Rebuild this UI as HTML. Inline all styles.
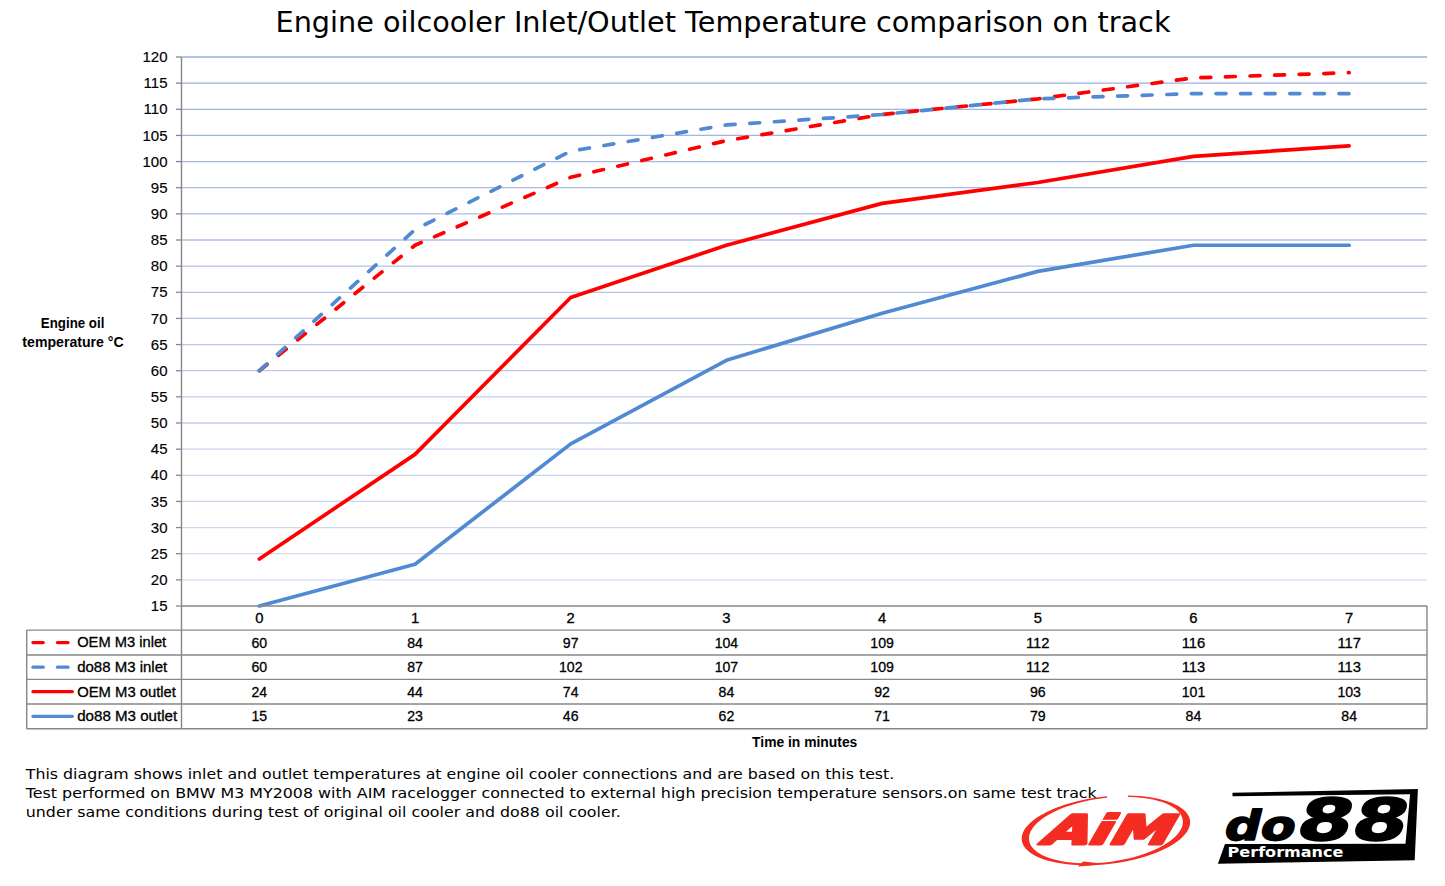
<!DOCTYPE html><html><head><meta charset="utf-8"><title>Engine oilcooler Inlet/Outlet Temperature comparison on track</title>
<style>html,body{margin:0;padding:0;background:#fff;width:1445px;height:886px;overflow:hidden}svg{display:block}.lab{font-family:'Liberation Sans',sans-serif;font-size:15px;fill:#000;stroke:#000;stroke-width:0.15px}.tv{font-family:'Liberation Sans',sans-serif;font-size:14.8px;fill:#000;stroke:#000;stroke-width:0.3px}.b{font-family:'Liberation Sans',sans-serif;font-weight:bold;font-size:13.9px;fill:#000}.ver{font-family:'DejaVu Sans',sans-serif;fill:#000}</style></head><body>
<svg width="1445" height="886" viewBox="0 0 1445 886">
<text class="ver" x="275.5" y="31.6" font-size="28" textLength="895" lengthAdjust="spacingAndGlyphs">Engine oilcooler Inlet/Outlet Temperature comparison on track</text>
<line x1="181.5" y1="579.86" x2="1427.0" y2="579.86" stroke="#d6dbf0" stroke-width="1.3"/>
<line x1="181.5" y1="553.71" x2="1427.0" y2="553.71" stroke="#d3d9ef" stroke-width="1.3"/>
<line x1="181.5" y1="527.57" x2="1427.0" y2="527.57" stroke="#d0d7ee" stroke-width="1.3"/>
<line x1="181.5" y1="501.43" x2="1427.0" y2="501.43" stroke="#cdd4ee" stroke-width="1.3"/>
<line x1="181.5" y1="475.29" x2="1427.0" y2="475.29" stroke="#cad2ed" stroke-width="1.3"/>
<line x1="181.5" y1="449.14" x2="1427.0" y2="449.14" stroke="#c6d0ec" stroke-width="1.3"/>
<line x1="181.5" y1="423.00" x2="1427.0" y2="423.00" stroke="#c3ceeb" stroke-width="1.3"/>
<line x1="181.5" y1="396.86" x2="1427.0" y2="396.86" stroke="#c0ccea" stroke-width="1.3"/>
<line x1="181.5" y1="370.71" x2="1427.0" y2="370.71" stroke="#bdc9ea" stroke-width="1.3"/>
<line x1="181.5" y1="344.57" x2="1427.0" y2="344.57" stroke="#bac7e9" stroke-width="1.3"/>
<line x1="181.5" y1="318.43" x2="1427.0" y2="318.43" stroke="#b7c5e8" stroke-width="1.3"/>
<line x1="181.5" y1="292.29" x2="1427.0" y2="292.29" stroke="#b4c3e7" stroke-width="1.3"/>
<line x1="181.5" y1="266.14" x2="1427.0" y2="266.14" stroke="#b1c1e6" stroke-width="1.3"/>
<line x1="181.5" y1="240.00" x2="1427.0" y2="240.00" stroke="#aebee6" stroke-width="1.3"/>
<line x1="181.5" y1="213.86" x2="1427.0" y2="213.86" stroke="#abbce5" stroke-width="1.3"/>
<line x1="181.5" y1="187.71" x2="1427.0" y2="187.71" stroke="#a7bae4" stroke-width="1.3"/>
<line x1="181.5" y1="161.57" x2="1427.0" y2="161.57" stroke="#a4b8e3" stroke-width="1.3"/>
<line x1="181.5" y1="135.43" x2="1427.0" y2="135.43" stroke="#a1b6e2" stroke-width="1.3"/>
<line x1="181.5" y1="109.29" x2="1427.0" y2="109.29" stroke="#9eb3e2" stroke-width="1.3"/>
<line x1="181.5" y1="83.14" x2="1427.0" y2="83.14" stroke="#9bb1e1" stroke-width="1.3"/>
<line x1="181.5" y1="57.00" x2="1427.0" y2="57.00" stroke="#98afe0" stroke-width="1.3"/>
<line x1="176" y1="606.00" x2="181.5" y2="606.00" stroke="#878787" stroke-width="1.3"/>
<text class="lab" x="167.5" y="611.20" text-anchor="end">15</text>
<line x1="176" y1="579.86" x2="181.5" y2="579.86" stroke="#878787" stroke-width="1.3"/>
<text class="lab" x="167.5" y="585.06" text-anchor="end">20</text>
<line x1="176" y1="553.71" x2="181.5" y2="553.71" stroke="#878787" stroke-width="1.3"/>
<text class="lab" x="167.5" y="558.91" text-anchor="end">25</text>
<line x1="176" y1="527.57" x2="181.5" y2="527.57" stroke="#878787" stroke-width="1.3"/>
<text class="lab" x="167.5" y="532.77" text-anchor="end">30</text>
<line x1="176" y1="501.43" x2="181.5" y2="501.43" stroke="#878787" stroke-width="1.3"/>
<text class="lab" x="167.5" y="506.63" text-anchor="end">35</text>
<line x1="176" y1="475.29" x2="181.5" y2="475.29" stroke="#878787" stroke-width="1.3"/>
<text class="lab" x="167.5" y="480.49" text-anchor="end">40</text>
<line x1="176" y1="449.14" x2="181.5" y2="449.14" stroke="#878787" stroke-width="1.3"/>
<text class="lab" x="167.5" y="454.34" text-anchor="end">45</text>
<line x1="176" y1="423.00" x2="181.5" y2="423.00" stroke="#878787" stroke-width="1.3"/>
<text class="lab" x="167.5" y="428.20" text-anchor="end">50</text>
<line x1="176" y1="396.86" x2="181.5" y2="396.86" stroke="#878787" stroke-width="1.3"/>
<text class="lab" x="167.5" y="402.06" text-anchor="end">55</text>
<line x1="176" y1="370.71" x2="181.5" y2="370.71" stroke="#878787" stroke-width="1.3"/>
<text class="lab" x="167.5" y="375.91" text-anchor="end">60</text>
<line x1="176" y1="344.57" x2="181.5" y2="344.57" stroke="#878787" stroke-width="1.3"/>
<text class="lab" x="167.5" y="349.77" text-anchor="end">65</text>
<line x1="176" y1="318.43" x2="181.5" y2="318.43" stroke="#878787" stroke-width="1.3"/>
<text class="lab" x="167.5" y="323.63" text-anchor="end">70</text>
<line x1="176" y1="292.29" x2="181.5" y2="292.29" stroke="#878787" stroke-width="1.3"/>
<text class="lab" x="167.5" y="297.49" text-anchor="end">75</text>
<line x1="176" y1="266.14" x2="181.5" y2="266.14" stroke="#878787" stroke-width="1.3"/>
<text class="lab" x="167.5" y="271.34" text-anchor="end">80</text>
<line x1="176" y1="240.00" x2="181.5" y2="240.00" stroke="#878787" stroke-width="1.3"/>
<text class="lab" x="167.5" y="245.20" text-anchor="end">85</text>
<line x1="176" y1="213.86" x2="181.5" y2="213.86" stroke="#878787" stroke-width="1.3"/>
<text class="lab" x="167.5" y="219.06" text-anchor="end">90</text>
<line x1="176" y1="187.71" x2="181.5" y2="187.71" stroke="#878787" stroke-width="1.3"/>
<text class="lab" x="167.5" y="192.91" text-anchor="end">95</text>
<line x1="176" y1="161.57" x2="181.5" y2="161.57" stroke="#878787" stroke-width="1.3"/>
<text class="lab" x="167.5" y="166.77" text-anchor="end">100</text>
<line x1="176" y1="135.43" x2="181.5" y2="135.43" stroke="#878787" stroke-width="1.3"/>
<text class="lab" x="167.5" y="140.63" text-anchor="end">105</text>
<line x1="176" y1="109.29" x2="181.5" y2="109.29" stroke="#878787" stroke-width="1.3"/>
<text class="lab" x="167.5" y="114.49" text-anchor="end">110</text>
<line x1="176" y1="83.14" x2="181.5" y2="83.14" stroke="#878787" stroke-width="1.3"/>
<text class="lab" x="167.5" y="88.34" text-anchor="end">115</text>
<line x1="176" y1="57.00" x2="181.5" y2="57.00" stroke="#878787" stroke-width="1.3"/>
<text class="lab" x="167.5" y="62.20" text-anchor="end">120</text>
<text class="b" x="72.6" y="327.6" text-anchor="middle" textLength="63.5" lengthAdjust="spacingAndGlyphs">Engine oil</text>
<text class="b" x="73" y="346.8" text-anchor="middle" textLength="101.3" lengthAdjust="spacingAndGlyphs">temperature °C</text>
<polyline points="259.34,370.71 415.03,245.23 570.72,177.26 726.41,140.66 882.09,114.51 1037.78,98.83 1193.47,77.91 1349.16,72.69" fill="none" stroke="#ff0000" stroke-width="3.7" stroke-linecap="round" stroke-linejoin="round" stroke-dasharray="9.9 14.7"/>
<polyline points="259.34,370.71 415.03,229.54 570.72,151.11 726.41,124.97 882.09,114.51 1037.78,98.83 1193.47,93.60 1349.16,93.60" fill="none" stroke="#518ad3" stroke-width="3.7" stroke-linecap="round" stroke-linejoin="round" stroke-dasharray="9.9 14.7"/>
<polyline points="259.34,558.94 415.03,454.37 570.72,297.51 726.41,245.23 882.09,203.40 1037.78,182.49 1193.47,156.34 1349.16,145.89" fill="none" stroke="#ff0000" stroke-width="3.7" stroke-linecap="round" stroke-linejoin="round"/>
<polyline points="259.34,606.00 415.03,564.17 570.72,443.91 726.41,360.26 882.09,313.20 1037.78,271.37 1193.47,245.23 1349.16,245.23" fill="none" stroke="#518ad3" stroke-width="3.7" stroke-linecap="round" stroke-linejoin="round"/>
<g stroke="#878787" stroke-width="1.4" fill="none">
<line x1="181.5" y1="57" x2="181.5" y2="728.7"/>
<line x1="181.5" y1="606" x2="1427.0" y2="606"/>
<line x1="1427.0" y1="606" x2="1427.0" y2="728.7"/>
<line x1="26.7" y1="630.1" x2="26.7" y2="728.7"/>
<line x1="26.7" y1="630.1" x2="1427.0" y2="630.1"/>
<line x1="26.7" y1="655.0" x2="1427.0" y2="655.0"/>
<line x1="26.7" y1="679.4" x2="1427.0" y2="679.4"/>
<line x1="26.7" y1="704.0" x2="1427.0" y2="704.0"/>
<line x1="26.7" y1="728.7" x2="1427.0" y2="728.7"/>
</g>
<text class="tv" x="259.34" y="623.4" text-anchor="middle">0</text>
<text class="tv" x="415.03" y="623.4" text-anchor="middle">1</text>
<text class="tv" x="570.72" y="623.4" text-anchor="middle">2</text>
<text class="tv" x="726.41" y="623.4" text-anchor="middle">3</text>
<text class="tv" x="882.09" y="623.4" text-anchor="middle">4</text>
<text class="tv" x="1037.78" y="623.4" text-anchor="middle">5</text>
<text class="tv" x="1193.47" y="623.4" text-anchor="middle">6</text>
<text class="tv" x="1349.16" y="623.4" text-anchor="middle">7</text>
<text class="tv" x="259.34" y="647.60" text-anchor="middle" textLength="15.70" lengthAdjust="spacingAndGlyphs">60</text>
<text class="tv" x="415.03" y="647.60" text-anchor="middle" textLength="15.70" lengthAdjust="spacingAndGlyphs">84</text>
<text class="tv" x="570.72" y="647.60" text-anchor="middle" textLength="15.70" lengthAdjust="spacingAndGlyphs">97</text>
<text class="tv" x="726.41" y="647.60" text-anchor="middle" textLength="23.55" lengthAdjust="spacingAndGlyphs">104</text>
<text class="tv" x="882.09" y="647.60" text-anchor="middle" textLength="23.55" lengthAdjust="spacingAndGlyphs">109</text>
<text class="tv" x="1037.78" y="647.60" text-anchor="middle" textLength="23.55" lengthAdjust="spacingAndGlyphs">112</text>
<text class="tv" x="1193.47" y="647.60" text-anchor="middle" textLength="23.55" lengthAdjust="spacingAndGlyphs">116</text>
<text class="tv" x="1349.16" y="647.60" text-anchor="middle" textLength="23.55" lengthAdjust="spacingAndGlyphs">117</text>
<line x1="33.0" y1="642.6" x2="43.2" y2="642.6" stroke="#ff0000" stroke-width="3.3" stroke-linecap="round"/>
<line x1="57.5" y1="642.6" x2="68.0" y2="642.6" stroke="#ff0000" stroke-width="3.3" stroke-linecap="round"/>
<text class="tv" style="font-size:14px" x="77.2" y="647.40" textLength="89.0" lengthAdjust="spacingAndGlyphs">OEM M3 inlet</text>
<text class="tv" x="259.34" y="672.20" text-anchor="middle" textLength="15.70" lengthAdjust="spacingAndGlyphs">60</text>
<text class="tv" x="415.03" y="672.20" text-anchor="middle" textLength="15.70" lengthAdjust="spacingAndGlyphs">87</text>
<text class="tv" x="570.72" y="672.20" text-anchor="middle" textLength="23.55" lengthAdjust="spacingAndGlyphs">102</text>
<text class="tv" x="726.41" y="672.20" text-anchor="middle" textLength="23.55" lengthAdjust="spacingAndGlyphs">107</text>
<text class="tv" x="882.09" y="672.20" text-anchor="middle" textLength="23.55" lengthAdjust="spacingAndGlyphs">109</text>
<text class="tv" x="1037.78" y="672.20" text-anchor="middle" textLength="23.55" lengthAdjust="spacingAndGlyphs">112</text>
<text class="tv" x="1193.47" y="672.20" text-anchor="middle" textLength="23.55" lengthAdjust="spacingAndGlyphs">113</text>
<text class="tv" x="1349.16" y="672.20" text-anchor="middle" textLength="23.55" lengthAdjust="spacingAndGlyphs">113</text>
<line x1="33.0" y1="667.2" x2="43.2" y2="667.2" stroke="#518ad3" stroke-width="3.3" stroke-linecap="round"/>
<line x1="57.5" y1="667.2" x2="68.0" y2="667.2" stroke="#518ad3" stroke-width="3.3" stroke-linecap="round"/>
<text class="tv" style="font-size:14px" x="77.2" y="672.00" textLength="90.0" lengthAdjust="spacingAndGlyphs">do88 M3 inlet</text>
<text class="tv" x="259.34" y="696.70" text-anchor="middle" textLength="15.70" lengthAdjust="spacingAndGlyphs">24</text>
<text class="tv" x="415.03" y="696.70" text-anchor="middle" textLength="15.70" lengthAdjust="spacingAndGlyphs">44</text>
<text class="tv" x="570.72" y="696.70" text-anchor="middle" textLength="15.70" lengthAdjust="spacingAndGlyphs">74</text>
<text class="tv" x="726.41" y="696.70" text-anchor="middle" textLength="15.70" lengthAdjust="spacingAndGlyphs">84</text>
<text class="tv" x="882.09" y="696.70" text-anchor="middle" textLength="15.70" lengthAdjust="spacingAndGlyphs">92</text>
<text class="tv" x="1037.78" y="696.70" text-anchor="middle" textLength="15.70" lengthAdjust="spacingAndGlyphs">96</text>
<text class="tv" x="1193.47" y="696.70" text-anchor="middle" textLength="23.55" lengthAdjust="spacingAndGlyphs">101</text>
<text class="tv" x="1349.16" y="696.70" text-anchor="middle" textLength="23.55" lengthAdjust="spacingAndGlyphs">103</text>
<line x1="33.0" y1="691.7" x2="72.3" y2="691.7" stroke="#ff0000" stroke-width="3.3" stroke-linecap="round"/>
<text class="tv" style="font-size:14px" x="77.2" y="696.50" textLength="98.8" lengthAdjust="spacingAndGlyphs">OEM M3 outlet</text>
<text class="tv" x="259.34" y="721.30" text-anchor="middle" textLength="15.70" lengthAdjust="spacingAndGlyphs">15</text>
<text class="tv" x="415.03" y="721.30" text-anchor="middle" textLength="15.70" lengthAdjust="spacingAndGlyphs">23</text>
<text class="tv" x="570.72" y="721.30" text-anchor="middle" textLength="15.70" lengthAdjust="spacingAndGlyphs">46</text>
<text class="tv" x="726.41" y="721.30" text-anchor="middle" textLength="15.70" lengthAdjust="spacingAndGlyphs">62</text>
<text class="tv" x="882.09" y="721.30" text-anchor="middle" textLength="15.70" lengthAdjust="spacingAndGlyphs">71</text>
<text class="tv" x="1037.78" y="721.30" text-anchor="middle" textLength="15.70" lengthAdjust="spacingAndGlyphs">79</text>
<text class="tv" x="1193.47" y="721.30" text-anchor="middle" textLength="15.70" lengthAdjust="spacingAndGlyphs">84</text>
<text class="tv" x="1349.16" y="721.30" text-anchor="middle" textLength="15.70" lengthAdjust="spacingAndGlyphs">84</text>
<line x1="33.0" y1="716.3" x2="72.3" y2="716.3" stroke="#518ad3" stroke-width="3.3" stroke-linecap="round"/>
<text class="tv" style="font-size:14px" x="77.2" y="721.10" textLength="100.0" lengthAdjust="spacingAndGlyphs">do88 M3 outlet</text>
<text class="b" x="804.7" y="746.9" text-anchor="middle" textLength="105.2" lengthAdjust="spacingAndGlyphs">Time in minutes</text>
<text class="ver" x="25.8" y="779.4" font-size="14.3" textLength="868.5" lengthAdjust="spacingAndGlyphs">This diagram shows inlet and outlet temperatures at engine oil cooler connections and are based on this test.</text>
<text class="ver" x="25.8" y="798.4" font-size="14.3" textLength="1071.0" lengthAdjust="spacingAndGlyphs">Test performed on BMW M3 MY2008 with AIM racelogger connected to external high precision temperature sensors.on same test track</text>
<text class="ver" x="25.8" y="817.4" font-size="14.3" textLength="595.0" lengthAdjust="spacingAndGlyphs">under same conditions during test of original oil cooler and do88 oil cooler.</text>
<g id="aim">
<path fill="#f42c22" fill-rule="evenodd" d="M1190.04,820.66 L1190.10,823.02 L1189.76,825.42 L1189.01,827.84 L1187.85,830.27 L1186.29,832.70 L1184.34,835.12 L1182.01,837.52 L1179.31,839.88 L1176.25,842.20 L1172.84,844.46 L1169.11,846.65 L1165.08,848.76 L1160.75,850.79 L1156.16,852.71 L1151.32,854.52 L1146.27,856.22 L1141.01,857.79 L1135.58,859.23 L1130.01,860.53 L1124.33,861.68 L1118.55,862.68 L1112.71,863.52 L1106.83,864.20 L1100.96,864.71 L1095.10,865.06 L1089.30,865.24 L1083.58,865.25 L1077.97,865.09 L1072.50,864.76 L1067.19,864.26 L1062.06,863.60 L1057.15,862.77 L1052.48,861.79 L1048.07,860.66 L1043.94,859.38 L1040.11,857.95 L1036.60,856.40 L1033.43,854.71 L1030.61,852.91 L1028.16,851.00 L1026.09,848.99 L1024.41,846.88 L1023.12,844.70 L1022.24,842.45 L1021.76,840.14 L1021.70,837.78 L1022.04,835.38 L1022.79,832.96 L1023.95,830.53 L1025.51,828.10 L1027.46,825.68 L1029.79,823.28 L1032.49,820.92 L1035.55,818.60 L1038.96,816.34 L1042.69,814.15 L1046.72,812.04 L1051.05,810.01 L1055.64,808.09 L1060.48,806.28 L1065.53,804.58 L1070.79,803.01 L1076.22,801.57 L1081.79,800.27 L1087.47,799.12 L1093.25,798.12 L1099.09,797.28 L1104.97,796.60 L1110.84,796.09 L1116.70,795.74 L1122.50,795.56 L1128.22,795.55 L1133.83,795.71 L1139.30,796.04 L1144.61,796.54 L1149.74,797.20 L1154.65,798.03 L1159.32,799.01 L1163.73,800.14 L1167.86,801.42 L1171.69,802.85 L1175.20,804.40 L1178.37,806.09 L1181.19,807.89 L1183.64,809.80 L1185.71,811.81 L1187.39,813.92 L1188.68,816.10 L1189.56,818.35 Z M1182.75,820.12 L1182.85,822.36 L1182.58,824.63 L1181.93,826.93 L1180.91,829.25 L1179.53,831.57 L1177.79,833.89 L1175.69,836.18 L1173.26,838.45 L1170.50,840.68 L1167.42,842.85 L1164.05,844.96 L1160.39,847.00 L1156.46,848.96 L1152.29,850.83 L1147.90,852.59 L1143.30,854.25 L1138.51,855.78 L1133.57,857.20 L1128.49,858.48 L1123.30,859.62 L1118.03,860.62 L1112.70,861.47 L1107.34,862.16 L1101.97,862.70 L1096.61,863.08 L1091.31,863.31 L1086.07,863.36 L1080.93,863.26 L1075.91,863.00 L1071.04,862.57 L1066.34,861.99 L1061.83,861.25 L1057.54,860.36 L1053.48,859.32 L1049.68,858.14 L1046.15,856.83 L1042.91,855.38 L1039.98,853.81 L1037.37,852.13 L1035.09,850.33 L1033.16,848.44 L1031.58,846.46 L1030.37,844.40 L1029.52,842.27 L1029.05,840.08 L1028.95,837.84 L1029.22,835.57 L1029.87,833.27 L1030.89,830.95 L1032.27,828.63 L1034.01,826.31 L1036.11,824.02 L1038.54,821.75 L1041.30,819.52 L1044.38,817.35 L1047.75,815.24 L1051.41,813.20 L1055.34,811.24 L1059.51,809.37 L1063.90,807.61 L1068.50,805.95 L1073.29,804.42 L1078.23,803.00 L1083.31,801.72 L1088.50,800.58 L1093.77,799.58 L1099.10,798.73 L1104.46,798.04 L1109.83,797.50 L1115.19,797.12 L1120.49,796.89 L1125.73,796.84 L1130.87,796.94 L1135.89,797.20 L1140.76,797.63 L1145.46,798.21 L1149.97,798.95 L1154.26,799.84 L1158.32,800.88 L1162.12,802.06 L1165.65,803.37 L1168.89,804.82 L1171.82,806.39 L1174.43,808.07 L1176.71,809.87 L1178.64,811.76 L1180.22,813.74 L1181.43,815.80 L1182.28,817.93 Z"/>
<polygon fill="#fff" points="1107,790 1128,790 1128,800 1107,801"/>
<polygon fill="#f42c22" points="1077.6,866.4 1083.3,861.4 1097,863.0 1097,865.0"/>
<text transform="translate(1038.5,843.5) skewX(-30)" x="0" y="0" font-family="DejaVu Sans, sans-serif" font-weight="bold" font-size="40.2" fill="#f42c22" stroke="#f42c22" stroke-width="2.9" stroke-linejoin="round" textLength="128.0" lengthAdjust="spacingAndGlyphs">AiM</text>
<line x1="1101" y1="820.4" x2="1120.5" y2="820.4" stroke="#fff" stroke-width="1.3"/>
</g>
<g id="do88">
<polygon fill="#000" points="1232.5,792.7 1417.9,789.1 1414.7,860.3 1217.9,863.8 1225,844 1405.5,843.8 1410.1,794.2 1232.5,796.3"/>
<text transform="translate(1222.2,839.8) skewX(-14)" x="0" y="0" font-family="DejaVu Sans, sans-serif" font-weight="bold" fill="#000" stroke="#000" stroke-width="1.6" stroke-linejoin="round"><tspan font-size="41.0" textLength="70.5" lengthAdjust="spacingAndGlyphs">do</tspan><tspan font-size="58.0" dx="1.0" textLength="110.0" lengthAdjust="spacingAndGlyphs">88</tspan></text>
<text x="1227.6" y="857.4" font-family="DejaVu Sans, sans-serif" font-weight="bold" font-size="13.4" fill="#fff" textLength="115.8" lengthAdjust="spacingAndGlyphs">Performance</text>
</g>
</svg>
</body></html>
